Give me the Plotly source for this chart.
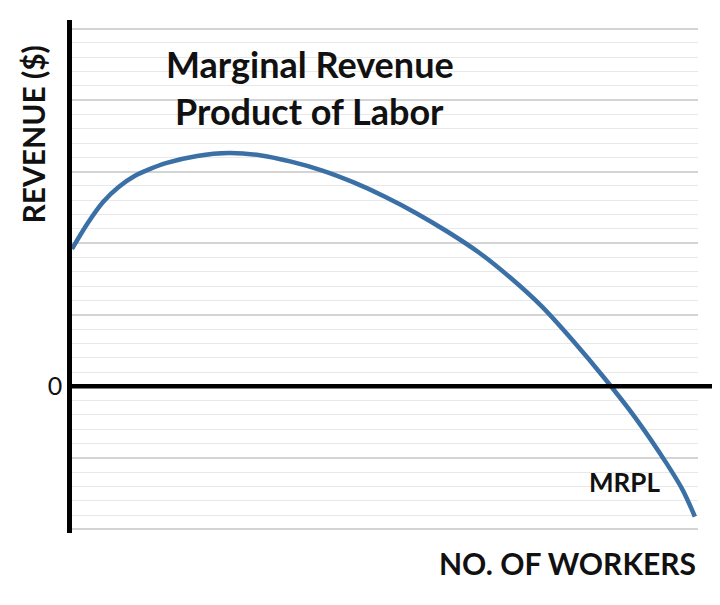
import plotly.graph_objects as go

# Curve (x: workers scale 0-10, y: revenue in gridline units)
workers = [0.0, 0.25, 0.5, 0.75, 1.0, 1.25, 1.5, 2.0, 2.5, 3.0, 3.5, 4.0, 4.5, 5.0,
           5.5, 6.0, 6.5, 7.0, 7.5, 8.0, 8.5, 9.0, 9.5, 9.75, 9.95]
mrpl = [9.6, 11.4, 12.9, 13.95, 14.7, 15.2, 15.6, 16.1, 16.3, 16.15, 15.7, 15.08, 14.25, 13.25,
        12.1, 10.8, 9.35, 7.6, 5.6, 3.2, 0.6, -2.2, -5.4, -7.2, -9.1]

y_tickvals = [-10, -5, 0, 5, 10, 15, 20, 25]
y_ticktext = ["", "", "0", "", "", "", "", ""]

title_line1 = "Marginal Revenue"
title_line2 = "Product of Labor"
curve_label = "MRPL"
x_title = "NO. OF WORKERS"
y_title = "REVENUE ($)"

FONT = "Lato"

fig = go.Figure()
fig.add_trace(go.Scatter(
    x=workers, y=mrpl, mode="lines",
    line=dict(color="#3A70A5", width=4.5, shape="spline", smoothing=0.9),
    hoverinfo="skip", showlegend=False,
))

# page body adds 8px offset; figure sized/margined to compensate
fig.update_layout(
    width=712, height=597,
    margin=dict(l=64, r=22, t=12, b=72),
    paper_bgcolor="white", plot_bgcolor="white",
    showlegend=False,
    xaxis=dict(range=[0, 10], showgrid=False, zeroline=False, showline=False,
               showticklabels=False, ticks=""),
    yaxis=dict(range=[-10.25, 25.6], tickmode="array", tickvals=y_tickvals,
               ticktext=y_ticktext, showgrid=True, gridcolor="#d4d4d4", gridwidth=1.5,
               zeroline=False, showline=True, linecolor="black", linewidth=4.5,
               ticks="", tickfont=dict(family=FONT, size=25, color="#111"),
               minor=dict(tickmode="linear", tick0=0, dtick=1, showgrid=True,
                          gridcolor="#e8e8e8", gridwidth=1.2)),
    shapes=[dict(type="line", xref="paper", yref="y", x0=-0.005, x1=1.032, y0=0, y1=0,
                 line=dict(color="black", width=4.5), layer="above")],
)

anns = [
    dict(text=title_line1, x=0.38, y=0.914, size=36),
    dict(text=title_line2, x=0.38, y=0.822, size=36),
    dict(text=curve_label, x=0.882, y=0.099, size=26),
]
for a in anns:
    fig.add_annotation(text="<b>%s</b>" % a["text"], xref="paper", yref="paper",
                       x=a["x"], y=a["y"], showarrow=False, xanchor="center", yanchor="middle",
                       font=dict(family=FONT, size=a["size"], color="#111"))

fig.add_annotation(text="<b>%s</b>" % x_title, xref="paper", yref="paper", x=1.0, y=-0.058,
                   xanchor="right", yanchor="middle", showarrow=False,
                   font=dict(family=FONT, size=30, color="#111"))
fig.add_annotation(text="<b>%s</b>" % y_title, xref="paper", yref="paper", x=-0.062, y=0.777,
                   xanchor="center", yanchor="middle", textangle=-90, showarrow=False,
                   font=dict(family=FONT, size=30, color="#111"))

fig.write_html("out.html")
